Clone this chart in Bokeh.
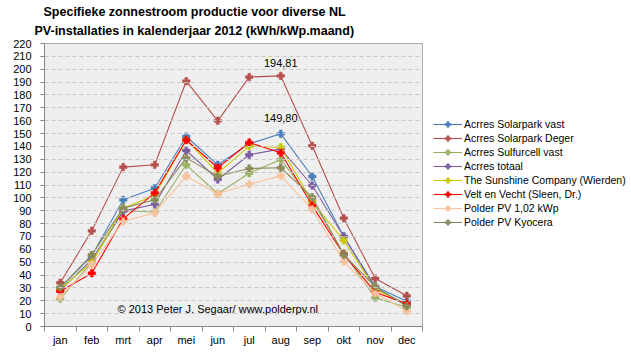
from bokeh.plotting import figure
from bokeh.models import (Label, Legend, LegendItem, FixedTicker, Range1d, ColumnDataSource,
                          BoxAnnotation, Title)
from bokeh.embed import file_html
from bokeh.resources import INLINE
from bokeh.core.properties import value

months = ["jan", "feb", "mrt", "apr", "mei", "jun", "jul", "aug", "sep", "okt", "nov", "dec"]

acrres_solarpark_vast = [30.0, 55.0, 98.5, 107.5, 147.7, 125.7, 142.0, 149.80, 116.6, 70.0, 31.0, 19.7]
acrres_solarpark_deger = [34.0, 74.4, 123.9, 125.7, 190.7, 159.9, 193.9, 194.81, 140.5, 84.2, 37.3, 23.9]
acrres_sulfurcell_vast = [21.5, 50.0, 90.0, 89.0, 125.7, 103.2, 119.2, 129.8, 98.0, 57.0, 22.3, 15.0]
acrres_totaal = [28.0, 52.0, 89.7, 95.0, 136.8, 114.3, 133.5, 138.1, 109.6, 70.0, 30.0, 17.0]
sunshine_company = [29.0, 50.0, 92.0, 102.0, 145.0, 119.2, 140.2, 139.4, 96.6, 66.9, 29.0, 17.0]
velt_en_vecht = [27.4, 41.4, 83.7, 103.9, 145.0, 123.4, 143.0, 135.0, 94.0, 56.0, 26.7, 17.6]
polder_pv_102 = [22.8, 48.0, 81.6, 88.4, 116.8, 103.2, 110.6, 117.1, 91.0, 50.5, 26.0, 11.9]
polder_pv_kyocera = [30.3, 55.7, 92.0, 98.5, 131.1, 116.8, 122.8, 123.4, 100.5, 55.7, 31.0, 15.8]

series_names = [
    "Acrres Solarpark vast",
    "Acrres Solarpark Deger",
    "Acrres Sulfurcell vast",
    "Acrres totaal",
    "The Sunshine Company (Wierden)",
    "Velt en Vecht (Sleen, Dr.)",
    "Polder PV 1,02 kWp",
    "Polder PV Kyocera",
]
series_values = [acrres_solarpark_vast, acrres_solarpark_deger, acrres_sulfurcell_vast,
                 acrres_totaal, sunshine_company, velt_en_vecht, polder_pv_102, polder_pv_kyocera]
series_colors = ["#4A7EBB", "#B5504D", "#98B062", "#7D5FA0", "#C8C800", "#FF0000", "#F9C29A", "#8B8A5C"]

y_ticks = list(range(0, 221, 10))
annotated_month = "aug"
annotated_series = [1, 0]

x_centers = [i + 0.5 for i in range(len(months))]
x_bounds = list(range(len(months) + 1))

FONT = "Liberation Sans"

# layout (pixels): frame extends to the right canvas edge so the legend (drawn in the
# frame) is not clipped; the plot box itself is a BoxAnnotation.
W, H = 631, 360
LEFT, BOTTOM, TOP = 44, 34, 42
BOX_W, BOX_H = 378, 284
frame_w, frame_h = W - LEFT, H - BOTTOM - TOP
x_end = len(months) * frame_w / BOX_W
y_end = y_ticks[-1] * frame_h / (BOX_H - 1)

p = figure(width=W, height=H, output_backend="svg", toolbar_location=None,
           x_range=Range1d(0, x_end), y_range=Range1d(y_ticks[0], y_end),
           min_border_left=LEFT, min_border_right=0, min_border_top=TOP, min_border_bottom=BOTTOM,
           background_fill_color="white", border_fill_color="white", title_location=None)
p.outline_line_color = None

p.add_layout(BoxAnnotation(left=x_bounds[0], right=x_bounds[-1], bottom=y_ticks[0], top=y_ticks[-1],
                           fill_color="#EFEFEF", fill_alpha=1.0, line_color="black", line_width=1,
                           level="underlay"))

# x axis
p.xaxis.bounds = (x_bounds[0], x_bounds[-1])
p.xaxis.ticker = FixedTicker(ticks=x_centers, minor_ticks=x_bounds)
p.xaxis.major_label_overrides = {xc: m for xc, m in zip(x_centers, months)}
p.xaxis.major_tick_line_color = None
p.xaxis.major_tick_out = 0
p.xaxis.major_tick_in = 0
p.xaxis.minor_tick_out = 5
p.xaxis.minor_tick_in = 0
p.xaxis.minor_tick_line_color = "#868686"
p.xaxis.axis_line_color = "#868686"
p.xaxis.major_label_standoff = 2
p.xaxis.major_label_text_font = FONT
p.xaxis.major_label_text_font_size = "11px"
p.xaxis.major_label_text_color = "black"

# y axis
p.yaxis.bounds = (y_ticks[0], y_ticks[-1])
p.yaxis.ticker = FixedTicker(ticks=y_ticks)
p.yaxis.major_tick_out = 4
p.yaxis.major_tick_in = 0
p.yaxis.minor_tick_line_color = None
p.yaxis.major_tick_line_color = "#868686"
p.yaxis.axis_line_color = "#868686"
p.yaxis.major_label_standoff = 9
p.yaxis.major_label_text_font = FONT
p.yaxis.major_label_text_font_size = "11px"
p.yaxis.major_label_text_color = "black"

# horizontal dashed grid lines, limited to the plot box
p.xgrid.visible = False
grid = p.ygrid[0]
if "cross_bounds" in grid.properties():
    grid.ticker = FixedTicker(ticks=y_ticks[1:-1])
    grid.cross_bounds = (x_bounds[0], x_bounds[-1])
    grid.grid_line_color = "#C8C8C8"
    grid.grid_line_dash = "4 3"
    grid.level = "glyph"
else:
    grid.visible = False
    gy = y_ticks[1:-1]
    p.segment(x0=[x_bounds[0]] * len(gy), x1=[x_bounds[-1]] * len(gy), y0=gy, y1=gy,
              line_color="#C8C8C8", line_dash="4 3", line_width=1)

items = []
for name, vals, col in zip(series_names, series_values, series_colors):
    src = ColumnDataSource(dict(x=x_centers, y=vals))
    lr = p.line("x", "y", source=src, line_color=col, line_width=1.1)
    sr = p.scatter("x", "y", source=src, marker="plus", size=7.5,
                   fill_color=col, line_color=col, line_width=0.5)
    items.append(LegendItem(label=name, renderers=[lr, sr]))

legend = Legend(items=items, location=(389, 97), glyph_width=29, glyph_height=14,
                label_height=14, spacing=0, padding=0, margin=0, label_standoff=2,
                border_line_color=None, background_fill_alpha=0,
                label_text_font=FONT, label_text_font_size="10.5px", label_text_color="black")
p.add_layout(legend)

# value annotations at august
ai = months.index(annotated_month)
ann_x = [x_centers[ai] for _ in annotated_series]
ann_y = [series_values[s][ai] for s in annotated_series]
ann_t = [f"{v:.2f}".replace(".", ",") for v in ann_y]
p.text(x=ann_x, y=ann_y, text=ann_t, y_offset=[-13, -16], text_align="center",
       text_baseline="middle", text_font=value(FONT), text_font_size="11px", text_color="black")

# title (two lines)
title1 = "Specifieke zonnestroom productie voor diverse NL"
title2 = "PV-installaties in kalenderjaar 2012 (kWh/kWp.maand)"
t2 = Title(text=title2, align="left", offset=-10, standoff=10,
           text_font=FONT, text_font_style="bold", text_font_size="12.5px", text_color="black")
t1 = Title(text=title1, align="left", offset=-1, standoff=0,
           text_font=FONT, text_font_style="bold", text_font_size="12.5px", text_color="black")
try:
    t1.standoff = -5
except Exception:
    t1.standoff = 0
p.add_layout(t2, "above")
p.add_layout(t1, "above")

p.add_layout(Label(x=73, y=18, x_units="screen", y_units="screen",
                   text="\u00a9 2013 Peter J. Segaar/ www.polderpv.nl",
                   text_align="left", text_baseline="middle",
                   text_font=FONT, text_font_size="11px", text_color="black"))

open("out.html", "w").write(file_html(p, INLINE))
